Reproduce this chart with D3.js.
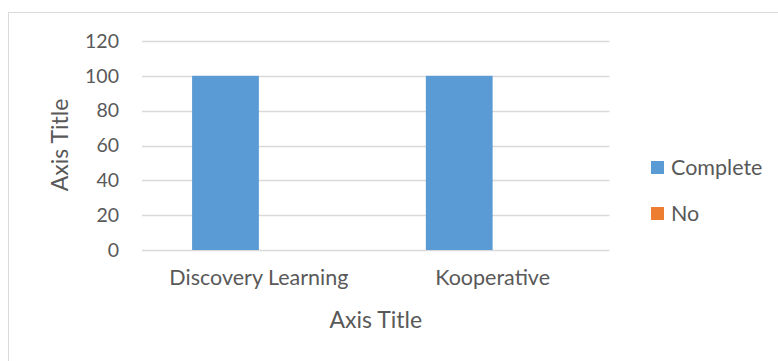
<!DOCTYPE html>
<html>
<head>
    <meta charset="utf-8" />
    <title>Chart</title>
    <script src="https://cdn.jsdelivr.net/npm/d3@7"></script>
    <style>
        body { margin: 0; background: #fff; }
        text { font-family: Lato, "Open Sans", sans-serif; fill: #595959; }
    </style>
</head>
<body>
<script>
    // data
    var categories = ["Discovery Learning", "Kooperative"];
    var seriesNames = ["Complete", "No"];
    var complete = [100, 100];
    var no = [0, 0];
    var yTicks = [0, 20, 40, 60, 80, 100, 120];
    var colors = ["#5b9bd5", "#ed7d31"];

    var w = 778, h = 361;
    var plotLeft = 142, plotRight = 609.5, plotTop = 41, plotBottom = 250;

    var svg = d3.select("body").append("svg")
        .attr("width", w)
        .attr("height", h);

    // chart frame (runs off the right and bottom edge)
    svg.append("rect")
        .attr("x", 8.5).attr("y", 12.5)
        .attr("width", 800).attr("height", 400)
        .attr("fill", "#fff")
        .attr("stroke", "#d9d9d9");

    var x0 = d3.scaleBand().domain(categories).range([plotLeft, plotRight]);
    var x1 = d3.scaleBand().domain(seriesNames)
        .range([0, x0.bandwidth()])
        .paddingInner(0).paddingOuter(0.75);
    var y = d3.scaleLinear().domain([0, 120]).range([plotBottom, plotTop]);

    // gridlines
    svg.append("g").selectAll("line")
        .data(yTicks)
        .enter().append("line")
        .attr("x1", plotLeft).attr("x2", plotRight)
        .attr("y1", function (d) { return Math.round(y(d)) + 0.5; })
        .attr("y2", function (d) { return Math.round(y(d)) + 0.5; })
        .attr("stroke", "#d9d9d9")
        .attr("stroke-width", 1.3);

    // y axis labels
    var yAxis = d3.axisLeft(y).tickValues(yTicks).tickSize(0).tickPadding(23);
    var gy = svg.append("g")
        .attr("transform", "translate(" + plotLeft + ",0)")
        .call(yAxis);
    gy.select(".domain").remove();
    gy.selectAll("text").style("font-size", "19.5px").style("font-family", null);

    // bars
    var rows = categories.map(function (c, i) {
        return [{ s: "Complete", v: complete[i], c: colors[0] }, { s: "No", v: no[i], c: colors[1] }];
    });
    svg.append("g").selectAll("g")
        .data(rows)
        .enter().append("g")
        .attr("transform", function (d, i) { return "translate(" + x0(categories[i]) + ",0)"; })
        .selectAll("rect")
        .data(function (d) { return d; })
        .enter().append("rect")
        .attr("x", function (d) { return x1(d.s); })
        .attr("y", function (d) { return y(d.v); })
        .attr("width", x1.bandwidth())
        .attr("height", function (d) { return plotBottom - y(d.v); })
        .attr("fill", function (d) { return d.c; });

    // x axis labels
    var xAxis = d3.axisBottom(x0).tickSize(0).tickPadding(20);
    var gx = svg.append("g")
        .attr("transform", "translate(0," + plotBottom + ")")
        .call(xAxis);
    gx.select(".domain").remove();
    gx.selectAll("text").style("font-size", "21.5px").style("font-family", null);

    // axis titles
    svg.append("text")
        .attr("x", (plotLeft + plotRight) / 2)
        .attr("y", 328)
        .attr("text-anchor", "middle")
        .style("font-size", "23px")
        .text("Axis Title");

    svg.append("text")
        .attr("transform", "translate(68,145) rotate(-90)")
        .attr("text-anchor", "middle")
        .style("font-size", "23px")
        .text("Axis Title");

    // legend
    var legend = svg.append("g").selectAll("g")
        .data(seriesNames)
        .enter().append("g")
        .attr("transform", function (d, i) { return "translate(651," + (161 + i * 46) + ")"; });
    legend.append("rect")
        .attr("width", 13).attr("height", 13)
        .attr("fill", function (d, i) { return colors[i]; });
    legend.append("text")
        .attr("x", 20).attr("y", 14)
        .style("font-size", "21.5px")
        .text(function (d) { return d; });
</script>
</body>
</html>
